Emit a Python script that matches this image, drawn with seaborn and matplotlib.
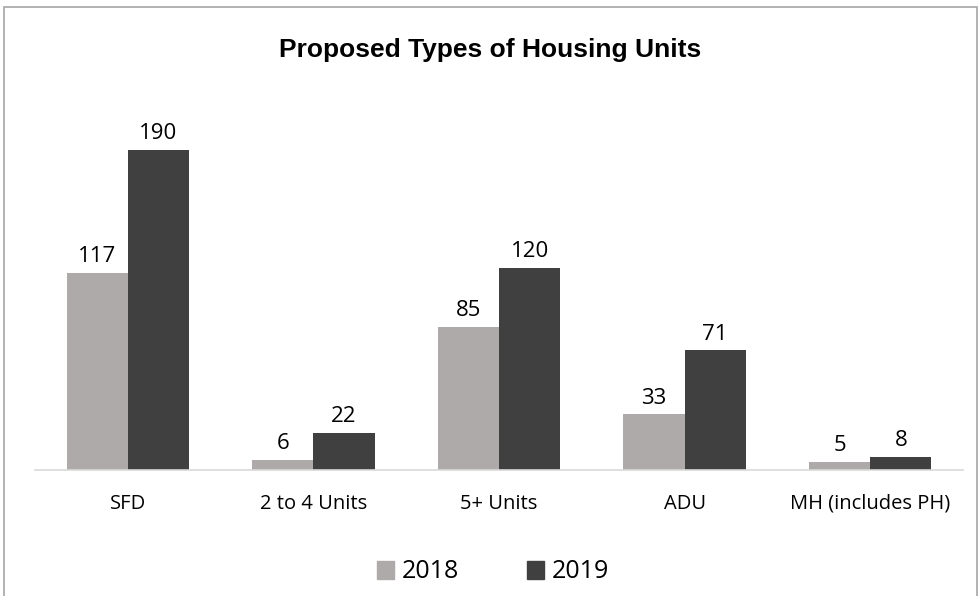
import pandas as pd
import matplotlib.pyplot as plt
import seaborn as sns
from matplotlib.patches import Rectangle

categories = ['SFD', '2 to 4 Units', '5+ Units', 'ADU', 'MH (includes PH)']
units_2018 = [117, 6, 85, 33, 5]
units_2019 = [190, 22, 120, 71, 8]
years = ['2018', '2019']

df = pd.DataFrame({
    'type': categories * 2,
    'year': [years[0]] * len(categories) + [years[1]] * len(categories),
    'units': units_2018 + units_2019,
})

sns.set_theme(style="white")
plt.rcParams['font.family'] = ['Open Sans', 'DejaVu Sans']

fig = plt.figure(figsize=(9.8, 5.96), dpi=100)
ax = fig.add_axes([35 / 980, 126 / 596, 928 / 980, 370 / 596])

sns.barplot(data=df, x='type', y='units', hue='year', order=categories,
            hue_order=years, palette=['#AEAAAA', '#404040'],
            width=0.66, saturation=1, linewidth=0, ax=ax)

for container in ax.containers:
    ax.bar_label(container, padding=4, fontsize=16, color='#000000')

ax.set_ylim(0, 370 / 1.684)
ax.set_xlim(-0.5, len(categories) - 0.5)
ax.set_xlabel('')
ax.set_ylabel('')
ax.set_yticks([])
ax.tick_params(axis='x', length=0, pad=17, labelsize=14.5, colors='#000000')
for side in ['top', 'right', 'left']:
    ax.spines[side].set_visible(False)
ax.spines['bottom'].set_color('#D9D9D9')
ax.spines['bottom'].set_linewidth(1.2)

ax.legend_.remove()
handles = [Rectangle((0, 0), 1, 1, color='#AEAAAA'), Rectangle((0, 0), 1, 1, color='#404040')]
fig.legend(handles, years, loc='center', bbox_to_anchor=(0.503, 1 - 572 / 596),
           ncol=2, frameon=False, fontsize=18, handlelength=0.7, handleheight=0.7,
           handletextpad=0.3, columnspacing=2.7, labelcolor='#000000')

fig.text(0.5, 1 - 57 / 596, 'Proposed Types of Housing Units', ha='center', va='baseline',
         fontsize=19, fontweight='bold', family='Liberation Sans', color='#000000')

# outer border of the chart area
fig.add_artist(Rectangle((4 / 980, -0.05), 973 / 980, 1.05 - 7 / 596, transform=fig.transFigure,
                         fill=False, edgecolor='#A6A6A6', linewidth=1.2))

fig.savefig('out.png', dpi=100)
